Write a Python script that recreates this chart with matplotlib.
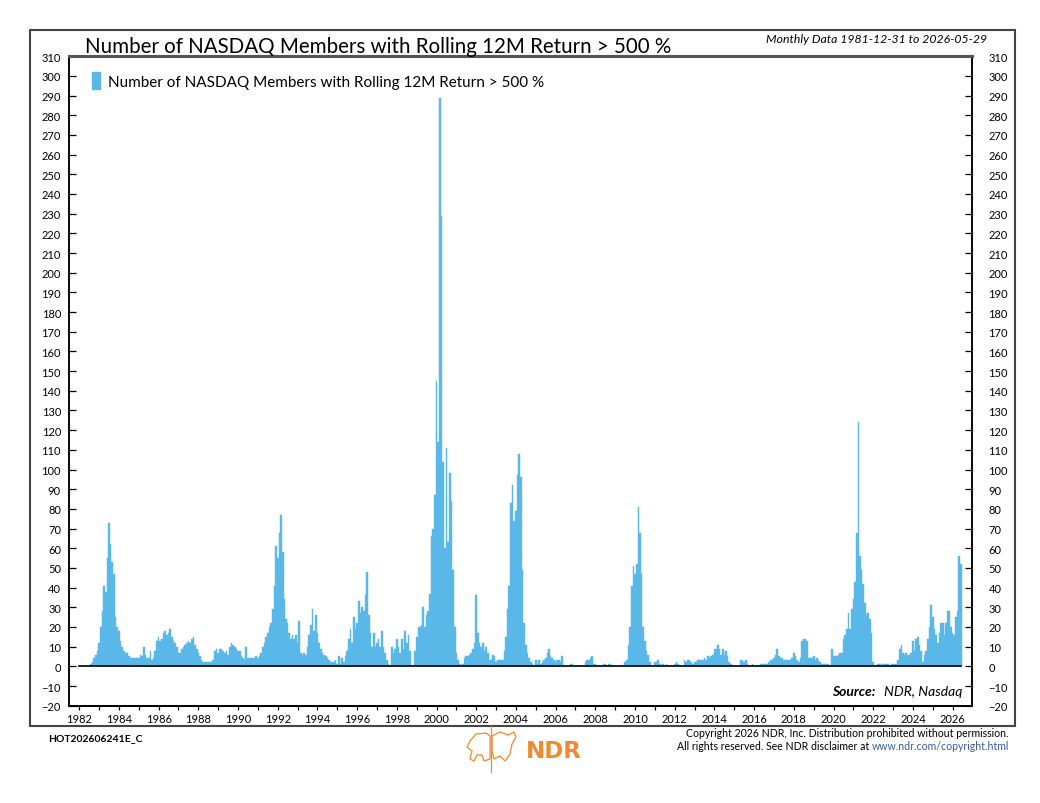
import matplotlib
matplotlib.use("Agg")
import matplotlib.pyplot as plt
from matplotlib.patches import Rectangle, Polygon
from matplotlib.ticker import MultipleLocator
import pandas as pd

plt.rcParams["font.family"] = ["Lato", "DejaVu Sans"]

# number of members with rolling 12M return > 500 %, monthly 1981-12 .. 2026-05
counts_1980s = [
    0,                                              # 1981-12
    0, 0, 0, 0, 0, 0, 1, 2, 4, 6, 8, 12,            # 1982
    20, 28, 41, 38, 55, 73, 62, 53, 47, 25, 20, 18, # 1983
    13, 10, 8, 7, 7, 5, 4, 4, 4, 4, 4, 4,           # 1984
    6, 5, 10, 6, 4, 4, 8, 3, 4, 8, 13, 15,          # 1985
    13, 14, 17, 18, 16, 17, 19, 15, 13, 12, 10, 7,  # 1986
    7, 9, 10, 11, 12, 13, 12, 14, 15, 11, 9, 7,     # 1987
    5, 3, 2, 2, 2, 2, 2, 2, 3, 8, 9, 7,             # 1988
    9, 9, 8, 7, 8, 6, 10, 12, 11, 10, 9, 8,         # 1989
]
counts_1990s = [
    8, 5, 4, 3, 10, 4, 4, 4, 4, 4, 5, 4,            # 1990
    5, 7, 10, 12, 15, 17, 20, 22, 29, 41, 61, 55,   # 1991
    68, 77, 58, 34, 24, 22, 17, 14, 16, 14, 16, 12, # 1992
    23, 7, 6, 7, 6, 10, 16, 21, 29, 18, 26, 17,     # 1993
    12, 9, 7, 6, 5, 4, 3, 2, 2, 2, 3, 1,            # 1994
    5, 1, 4, 2, 5, 8, 14, 19, 12, 25, 19, 22,       # 1995
    33, 27, 30, 28, 36, 48, 26, 17, 10, 17, 10, 12, # 1996
    14, 10, 18, 10, 7, 3, 1, 0, 10, 7, 9, 14,       # 1997
    10, 7, 14, 9, 18, 12, 16, 8, 0, 0, 8, 15,       # 1998
    20, 20, 21, 30, 20, 26, 28, 37, 66, 70, 87, 145,  # 1999
]
counts_2000s = [
    114, 289, 229, 104, 60, 111, 63, 98, 84, 49, 20, 7,  # 2000
    3, 1, 0, 1, 4, 5, 5, 6, 7, 9, 12, 36,           # 2001
    17, 12, 10, 12, 8, 10, 7, 3, 3, 6, 5, 2,        # 2002
    3, 3, 3, 3, 8, 15, 29, 41, 83, 92, 74, 79,      # 2003
    97, 108, 96, 49, 22, 11, 7, 4, 2, 1, 0, 3,      # 2004
    1, 3, 1, 2, 3, 4, 7, 9, 5, 4, 3, 2,             # 2005
    3, 3, 2, 5, 0, 0, 0, 0, 1, 1, 0, 0,             # 2006
    0, 0, 0, 0, 0, 2, 3, 3, 4, 5, 1, 1,             # 2007
    0, 0, 0, 0, 1, 1, 0, 1, 1, 0, 0, 0,             # 2008
    0, 0, 0, 0, 0, 2, 3, 11, 20, 41, 51, 47,        # 2009
]
counts_2010s = [
    52, 81, 68, 47, 20, 13, 8, 6, 2, 0, 0, 2,       # 2010
    2, 3, 1, 0, 1, 0, 1, 0, 0, 0, 0, 1,             # 2011
    2, 1, 0, 0, 0, 3, 2, 3, 3, 2, 1, 2,             # 2012
    2, 3, 3, 3, 3, 4, 3, 5, 4, 5, 6, 9,             # 2013
    9, 11, 9, 6, 9, 6, 8, 5, 2, 1, 0, 0,            # 2014
    0, 0, 0, 3, 3, 2, 3, 1, 0, 0, 1, 0,             # 2015
    0, 0, 0, 1, 1, 1, 1, 1, 2, 3, 3, 4,             # 2016
    6, 9, 5, 4, 4, 3, 3, 3, 3, 3, 4, 7,             # 2017
    5, 3, 2, 4, 13, 14, 14, 13, 4, 4, 4, 5,         # 2018
    3, 4, 3, 2, 1, 1, 1, 1, 1, 0, 9, 5,             # 2019
]
counts_2020s = [
    5, 5, 6, 7, 7, 14, 16, 19, 27, 19, 29, 34,      # 2020
    43, 68, 124, 56, 49, 42, 32, 26, 27, 24, 17, 2, # 2021
    0, 0, 1, 1, 0, 1, 1, 1, 1, 0, 1, 1,             # 2022
    1, 1, 3, 9, 11, 7, 6, 7, 6, 6, 7, 13,           # 2023
    8, 14, 15, 11, 8, 2, 6, 8, 14, 20, 31, 25,      # 2024
    19, 16, 12, 17, 22, 22, 16, 22, 28, 28, 20, 17, # 2025
    16, 25, 28, 56, 52,                             # 2026
]

counts = counts_1980s + counts_1990s + counts_2000s + counts_2010s + counts_2020s
months = pd.period_range("1981-12", "2026-05", freq="M")
assert len(counts) == len(months), (len(counts), len(months))
x = months.year + months.month / 12.0   # month-end as decimal year

label = "Number of NASDAQ Members with Rolling 12M Return > 500 %"
BLUE = "#59b8e7"
ORANGE = "#f08a2c"

W, H = 1040, 804
fig = plt.figure(figsize=(W / 100, H / 100), dpi=100)
fx = lambda px: px / W
fy = lambda py: 1 - py / H

ax_l, ax_r, ax_t, ax_b = 69.3, 971.7, 57.2, 706.7
ax = fig.add_axes([fx(ax_l), fy(ax_b), (ax_r - ax_l) / W, (ax_b - ax_t) / H])

ax.bar(x, counts, width=1 / 12, color=BLUE, edgecolor=BLUE, linewidth=0.3, align="center")
ax.plot([x[0], x[-1]], [0, 0], color="black", lw=1.2)

ax.set_xlim(1981.5, 2026.96)
ax.set_ylim(-20, 310)
ax.yaxis.set_major_locator(MultipleLocator(10))
ax.xaxis.set_minor_locator(MultipleLocator(1))
ax.set_xticks(range(1982, 2027, 2))
ax.set_xticklabels([str(y) for y in range(1982, 2027, 2)])

ax.tick_params(axis="y", direction="in", length=5, width=0.9, labelsize=8,
               pad=6, right=False)
ax.tick_params(axis="x", which="both", direction="out", length=3, width=0.9,
               labelsize=8, pad=2)

# right-hand copy of the value scale
ax2 = ax.twinx()
ax2.set_ylim(ax.get_ylim())
ax2.yaxis.set_major_locator(MultipleLocator(10))
ax2.tick_params(axis="y", direction="in", length=5, width=0.9, labelsize=8, pad=12)

for a in (ax, ax2):
    for side in ["left", "right", "bottom"]:
        a.spines[side].set_color("black")
        a.spines[side].set_linewidth(1.1)
    a.spines["bottom"].set_linewidth(1.4)
    a.spines["top"].set_color("#555555")
    a.spines["top"].set_linewidth(2.2)

ax.legend([Rectangle((0, 0), 1, 1, color=BLUE)], [label],
          loc="upper left", bbox_to_anchor=(0.025, 0.975), frameon=False,
          handlelength=0.55, handleheight=1.3, handletextpad=0.5,
          borderaxespad=0, borderpad=0, fontsize=11)

# source note
fig.text(fx(962), fy(692), "NDR, Nasdaq", ha="right", va="center",
         fontsize=10, style="italic")
fig.text(fx(875), fy(692), "Source:", ha="right", va="center",
         fontsize=10, style="italic", weight="bold")

# header
fig.text(fx(85), fy(53), label, ha="left", va="baseline", fontsize=14.8)
fig.text(fx(987), fy(43), "Monthly Data 1981-12-31 to 2026-05-29", ha="right",
         va="baseline", fontsize=8.8, style="italic")

# outer frame
fig.patches.append(Rectangle((fx(30), fy(727)), (1015 - 30) / W, (727 - 31) / H,
                             transform=fig.transFigure, fill=False,
                             edgecolor="#444444", linewidth=1.5))

# footer
fig.text(fx(48), fy(741), "HOT202606241E_C", ha="left", va="baseline",
         fontsize=7.5, weight="bold")
fig.text(fx(1009), fy(737), "Copyright 2026 NDR, Inc. Distribution prohibited without permission.",
         ha="right", va="baseline", fontsize=7.6)
url = fig.text(fx(1009), fy(750), "www.ndr.com/copyright.html", ha="right",
               va="baseline", fontsize=7.6, color="#3a5ca8")
fig.canvas.draw()
ub = url.get_window_extent()
fig.text(ub.x0 / W - 0.0025, fy(750), "All rights reserved. See NDR disclaimer at",
         ha="right", va="baseline", fontsize=7.6)

# NDR logo: rough bull/bear outline, centre line and lettering
fig.add_artist(plt.Line2D([fx(491), fx(491)], [fy(727), fy(773)], color=ORANGE,
                          lw=0.9, transform=fig.transFigure))
bear = [(470, 742), (476, 735), (486, 734), (490, 737), (490, 760), (484, 762),
        (482, 756), (477, 756), (474, 762), (470, 760), (472, 752), (467, 748)]
bull = [(492, 737), (500, 733), (508, 736), (514, 733), (516, 738), (512, 745),
        (510, 755), (505, 762), (500, 757), (494, 760), (492, 752)]
for pts in (bear, bull):
    fig.patches.append(Polygon([(fx(px), fy(py)) for px, py in pts], closed=True,
                               transform=fig.transFigure, fill=False,
                               edgecolor=ORANGE, linewidth=0.9))
fig.text(fx(526), fy(758), "NDR", ha="left", va="baseline", fontsize=16.5,
         weight="bold", color=ORANGE, family="DejaVu Sans")

fig.savefig("out.png", dpi=100)
